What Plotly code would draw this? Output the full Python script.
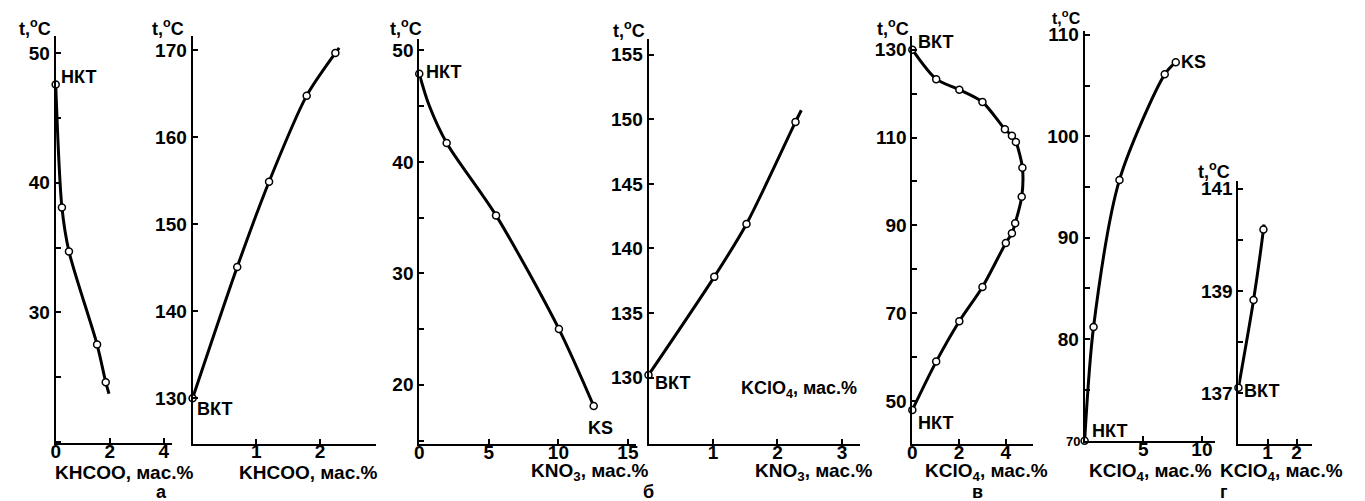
import plotly.graph_objects as go

W, H = 1365, 501

# ---------------- data ----------------
# а, left: KHCOO, low temperatures
a1_line_x = [0, 0.23, 0.49, 1.53, 1.85, 1.97]
a1_line_y = [47.6, 38.1, 34.7, 27.5, 24.6, 23.7]
a1_pts_x = [0, 0.23, 0.49, 1.53, 1.85]
a1_pts_y = [47.6, 38.1, 34.7, 27.5, 24.6]
# а, right: KHCOO, high temperatures
a2_line_x = [0, 0.70, 1.20, 1.79, 2.24, 2.30]
a2_line_y = [130, 145.1, 154.9, 164.8, 169.7, 170.3]
a2_pts_x = [0, 0.70, 1.20, 1.79, 2.24]
a2_pts_y = [130, 145.1, 154.9, 164.8, 169.7]
# б, left: KNO3
b1_line_x = [0, 0.7, 1.97, 5.52, 10.04, 12.54]
b1_line_y = [47.9, 45.1, 41.7, 35.2, 25.0, 18.1]
b1_pts_x = [0, 1.97, 5.52, 10.04, 12.54]
b1_pts_y = [47.9, 41.7, 35.2, 25.0, 18.1]
# б, right: KNO3 high temperatures
b2_line_x = [0, 1.02, 1.52, 2.28, 2.37]
b2_line_y = [130.2, 137.8, 141.9, 149.8, 150.7]
b2_pts_x = [0, 1.02, 1.52, 2.28]
b2_pts_y = [130.2, 137.8, 141.9, 149.8]
# в: KClO4 closed loop
c1_x = [0, 1.02, 2.01, 3.0, 3.96, 4.26, 4.43, 4.71, 4.68, 4.40, 4.26, 4.0, 3.0, 2.01, 1.02, 0]
c1_y = [130, 123.3, 120.9, 118.1, 111.9, 110.4, 109.0, 103.1, 96.5, 90.5, 88.2, 86.0, 76.0, 68.2, 59.0, 48]
# г, left: KClO4
d1_x = [0, 0.76, 2.97, 6.83, 7.77]
d1_y = [70, 81.2, 95.7, 106.1, 107.3]
# г, right: KClO4
d2_line_x = [0, 0.52, 0.86, 0.88]
d2_line_y = [137.1, 138.82, 140.2, 140.3]
d2_pts_x = [0, 0.52, 0.86]
d2_pts_y = [137.1, 138.82, 140.2]

# tick labels
a1_xt = [0, 2, 4];        a1_yt = [30, 40, 50]
a2_xt = [1, 2];           a2_yt = [130, 140, 150, 160, 170]
b1_xt = [0, 5, 10, 15];   b1_yt = [20, 30, 40, 50]
b2_xt = [1, 2, 3];        b2_yt = [130, 135, 140, 145, 150, 155]
c1_xt = [0, 2, 4];        c1_yt = [50, 70, 90, 110, 130]
d1_xt = [5, 10];          d1_yt = [80, 90, 100, 110]
d2_xt = [1, 2];           d2_yt = [137, 139, 141]

T_KHCOO = "KHCOO, мас.%"
T_KNO3 = "KNO<sub>3</sub>, мас.%"
T_KCLO4 = "KClO<sub>4</sub>, мас.%"
T_Y = "t,<sup>o</sup>C"

# ---------------- layout helpers ----------------
FONT = "Liberation Sans, Arial, sans-serif"
fig = go.Figure()

def px_x(p):
    return p / W

def px_y(p):
    return 1 - p / H

panels = [
    dict(x0=51, x1=168, yt=30, yb=442, xr=[0, 4.3], yr=[19.92, 51.37], xt=a1_xt, ytk=a1_yt, mdt=5, m0=25),
    dict(x0=188.7, x1=372.7, yt=30, yb=443, xr=[0, 2.87], yr=[124.77, 171.7], xt=a2_xt, ytk=a2_yt, mdt=None, m0=None),
    dict(x0=416.7, x1=635, yt=33, yb=443.3, xr=[0, 15.6], yr=[14.69, 51.06], xt=b1_xt, ytk=b1_yt, mdt=5, m0=25),
    dict(x0=647.3, x1=860, yt=33, yb=443.3, xr=[0, 3.28], yr=[124.86, 156.25], xt=b2_xt, ytk=b2_yt, mdt=None, m0=None),
    dict(x0=912.7, x1=1034, yt=30, yb=443.3, xr=[0, 5.16], yr=[40.24, 133.2], xt=c1_xt, ytk=c1_yt, mdt=20, m0=60),
    dict(x0=1086, x1=1217.3, yt=25, yb=440, xr=[0, 11.13], yr=[70, 110.4], xt=d1_xt, ytk=d1_yt, mdt=10, m0=75),
    dict(x0=1240.7, x1=1315, yt=176.7, yb=443.3, xr=[0, 2.54], yr=[136.0, 141.16], xt=d2_xt, ytk=d2_yt, mdt=2, m0=138),
]

lines = [
    (a1_line_x, a1_line_y, a1_pts_x, a1_pts_y),
    (a2_line_x, a2_line_y, a2_pts_x, a2_pts_y),
    (b1_line_x, b1_line_y, b1_pts_x, b1_pts_y),
    (b2_line_x, b2_line_y, b2_pts_x, b2_pts_y),
    (c1_x, c1_y, c1_x, c1_y),
    (d1_x, d1_y, d1_x, d1_y),
    (d2_line_x, d2_line_y, d2_pts_x, d2_pts_y),
]

TICKFONT = dict(family=FONT, size=19, color="black", weight="bold")

layout_axes = {}
for i, (p, (lx, ly, mx, my)) in enumerate(zip(panels, lines), start=1):
    suf = "" if i == 1 else str(i)
    xa, ya = "x" + suf, "y" + suf
    fig.add_trace(go.Scatter(x=lx, y=ly, mode="lines", xaxis=xa, yaxis=ya,
                             line=dict(color="black", width=3, shape="spline", smoothing=0.8),
                             hoverinfo="skip", showlegend=False))
    fig.add_trace(go.Scatter(x=mx, y=my, mode="markers", xaxis=xa, yaxis=ya,
                             marker=dict(size=7, color="white", line=dict(color="black", width=1.5)),
                             showlegend=False, cliponaxis=False))
    common = dict(showline=True, linecolor="black", linewidth=2, ticks="inside", ticklen=5,
                  tickwidth=2, tickcolor="black", showgrid=False, zeroline=False,
                  tickfont=TICKFONT, fixedrange=True)
    layout_axes["xaxis" + suf] = dict(common, domain=[px_x(p["x0"]), px_x(p["x1"])], range=p["xr"],
                                      tickvals=p["xt"], ticktext=[str(v) for v in p["xt"]],
                                      anchor=ya, ticklabelstandoff=-10)
    ydict = dict(common, domain=[px_y(p["yb"]), px_y(p["yt"])], range=p["yr"],
                 tickvals=p["ytk"], ticktext=[str(v) for v in p["ytk"]], anchor=xa)
    if p["mdt"]:
        ydict["minor"] = dict(ticks="inside", ticklen=5, tickwidth=1.5, tickcolor="black",
                              dtick=p["mdt"], tick0=p["m0"], showgrid=False)
    layout_axes["yaxis" + suf] = ydict

ann = []

def text(x, y, s, size=17, xanchor="left"):
    ann.append(dict(x=px_x(x), y=px_y(y), xref="paper", yref="paper", text=s, showarrow=False,
                    xanchor=xanchor, yanchor="middle",
                    font=dict(family=FONT, size=size, color="black", weight="bold")))

# point labels
text(54, 72, "НКТ", 18)
text(191, 408, "ВКТ", 18)
text(421, 67, "НКТ", 18)
text(599, 427, "KS", 18, xanchor="center")
text(652, 382, "ВКТ", 18)
text(799, 388, T_KCLO4, 18, xanchor="center")
text(916, 36, "ВКТ", 18)
text(916, 422, "НКТ", 18)
text(1091, 430, "НКТ", 18)
text(1083, 441, "70", 13, xanchor="right")
text(1181, 57, "KS", 18)
text(1244, 390, "ВКТ", 18)

# axis titles
text(48, 472, T_KHCOO, 19)
text(233, 472, T_KHCOO, 19)
text(527, 472, T_KNO3, 19)
text(752, 472, T_KNO3, 19)
text(923, 472, T_KCLO4, 19)
text(1216, 472, T_KCLO4, 19, xanchor="right")
text(1220, 472, T_KCLO4, 19)

# y titles
for (x, y, sz) in [(30, 22, 18), (164, 22, 18), (403, 22, 18), (628, 24, 18),
                   (893, 22, 18), (1068, 11, 16), (1216, 167, 18)]:
    text(x, y, T_Y, sz, xanchor="center")

# panel letters
for (x, s) in [(157, "а"), (647, "б"), (978, "в"), (1226, "г")]:
    text(x, 492, s, 18, xanchor="center")

fig.update_layout(width=W, height=H, margin=dict(l=0, r=0, t=0, b=0),
                  paper_bgcolor="white", plot_bgcolor="white",
                  font=dict(family=FONT, size=17, color="black", weight="bold"),
                  annotations=ann, **layout_axes)

fig.write_html("out.html")
